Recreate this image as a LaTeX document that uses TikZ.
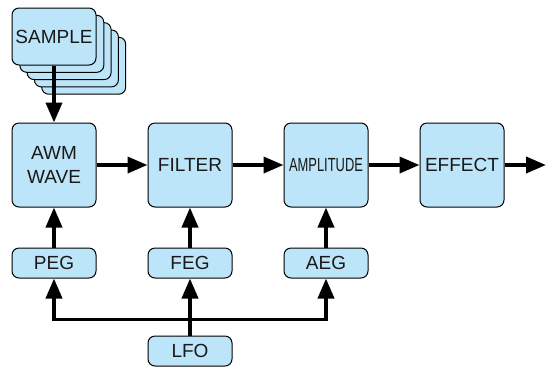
\documentclass[tikz,border=0pt]{standalone}
\usepackage{fontspec}
\setmainfont{Liberation Sans}
\usetikzlibrary{positioning,arrows.meta}

\definecolor{boxblue}{RGB}{189,229,249}
\definecolor{boxtext}{RGB}{25,25,25}

\tikzset{
  block/.style={draw=black, line width=1pt, fill=boxblue, rounded corners=7pt,
    minimum width=84pt, minimum height=84pt, align=center, text=boxtext,
    font=\fontsize{19}{24}\selectfont},
  small/.style={block, minimum height=30pt},
  sample/.style={block, minimum height=57pt},
  flow/.style={line width=3.8pt, -{Triangle[length=20pt,width=16pt]}},
}

\begin{document}
\begin{tikzpicture}[x=1pt,y=1pt,node distance=136pt,on grid]
    \useasboundingbox (0,0) rectangle (546,-368);
            \node[block] (awm) at (54,-165) {AWM\\WAVE};
            \node[block] (filter) [right=of awm] {FILTER};
            \node[block] (amp) [right=of filter] {\scalebox{0.68}[1]{AMPLITUDE}};
            \node[block] (effect) [right=of amp] {EFFECT};
            \coordinate[right=84pt of effect] (out);
            \node[small] (peg) [below=98pt of awm] {PEG};
            \node[small] (feg) [below=98pt of filter] {FEG};
            \node[small] (aeg) [below=98pt of amp] {AEG};
            \node[small] (lfo) [below=88pt of feg] {LFO};
            \coordinate[above=16pt of lfo.north] (bus);
            % stacked samples
            \foreach \k in {4,3,2,1}
                \node[sample] (sampleback\k) at (54.5+7.3*\k,-36.5-7.3*\k) {};
            \node[sample] (sample) [above=128.5pt of awm] {SAMPLE};
            \draw[flow] (sample) -- (awm);
            \draw[flow] (awm) -- (filter);
            \draw[flow] (filter) -- (amp);
            \draw[flow] (amp) -- (effect);
            \draw[flow] (effect) -- (out);
            \draw[flow] (peg) -- (awm);
            \draw[flow] (feg) -- (filter);
            \draw[flow] (aeg) -- (amp);
            \draw[flow] (lfo) -- (feg);
            \draw[flow] (bus) -| (peg);
            \draw[flow] (bus) -| (aeg);
\end{tikzpicture}
\end{document}
